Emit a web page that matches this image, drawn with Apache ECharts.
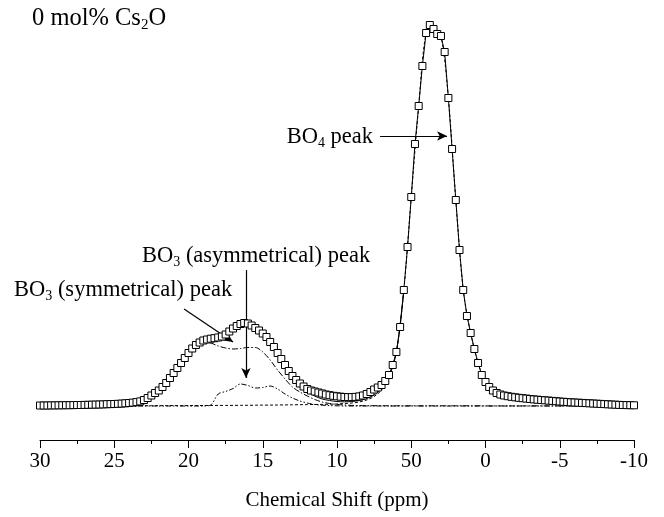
<!DOCTYPE html>
<html>
<head>
<meta charset="utf-8">
<script src="https://cdn.jsdelivr.net/npm/echarts@6/dist/echarts.min.js"></script>
<style>
  html, body { margin: 0; padding: 0; background: #fff; }
  #chart { width: 664px; height: 517px; }
</style>
</head>
<body>
<div id="chart"></div>
<script>
// 11B MAS NMR spectrum of the 0 mol% Cs2O glass with its fitted components.

// x tick labels as printed under the axis (30 ... -10 ppm)
const tickLabels = ['30', '25', '20', '15', '10', '50', '0', '-5', '-10'];

// measured spectrum: first point at 30 ppm, one point every 0.25 ppm
const measuredStart = 30;
const measuredStep = 0.25;
const measured = [
  0.5, 0.5, 0.5, 0.6, 0.6, 0.7, 0.7, 0.8, 0.8, 0.9,
  1.0, 1.0, 1.1, 1.2, 1.3, 1.4, 1.5, 1.6, 1.8, 1.9,
  2.0, 2.2, 2.4, 2.7, 3.0, 3.4, 3.9, 4.6, 6.0, 8.0,
  10.5, 13, 15.5, 19, 23, 28, 33, 38, 43, 48,
  53, 57.5, 61, 63.5, 65.5, 66.5, 67.3, 67.8, 68.5, 69.5,
  71.5, 74.5, 77.5, 80, 82, 83, 82.5, 80.5, 78, 75.5,
  72.5, 69, 64, 59, 53, 47, 41, 35, 30, 26,
  22.5, 19.5, 17, 15.5, 14.5, 13.5, 12.5, 11.5, 10.8, 10.2,
  9.7, 9.3, 9.0, 8.9, 8.9, 9.1, 9.6, 10.5, 12, 14,
  16.5, 18.5, 21, 25, 31, 41, 54, 79, 116, 159,
  209, 262, 300, 340, 373, 381, 377, 372, 370, 354,
  308, 257, 206, 156, 116, 90, 73, 57, 43, 31,
  24, 19, 15.5, 13, 11.5, 10.5, 9.8, 9.2, 8.7, 8.2,
  7.8, 7.4, 7.0, 6.6, 6.3, 6.0, 5.7, 5.4, 5.1, 4.8,
  4.5, 4.2, 4.0, 3.7, 3.5, 3.3, 3.1, 2.9, 2.7, 2.5,
  2.3, 2.1, 1.9, 1.7, 1.5, 1.3, 1.1, 1.0, 0.9, 0.8, 0.7
];

// fitted components: first point at 30 ppm, one point every 0.5 ppm
const compStart = 30;
const compStep = 0.5;
const bo3Symmetric = [
  0.3, 0.3, 0.4, 0.4, 0.5, 0.6, 0.7, 0.9, 1.0, 1.3,
  1.5, 1.9, 2.5, 3.4, 5.4, 10, 15, 22.5, 32.5, 42.5,
  52.5, 60, 64, 63, 60, 58, 57, 57.5, 58.5, 58.5,
  54, 46, 36, 27, 19, 14, 10, 6.5, 4, 2.5,
  1.5, 1, 0.6, 0.4, 0.3, 0.3, 0.3, 0.2, 0.2, 0.2,
  0.2, 0.2, 0.2, 0.2, 0.2, 0.2, 0.2, 0.2, 0.2, 0.2,
  0.1, 0.1, 0.1, 0.1, 0.1, 0.1, 0.1, 0.1, 0.1, 0.1,
  0.1, 0.1, 0.1, 0.1, 0.1, 0.1, 0.1, 0.1, 0.1, 0.1, 0.1
];
const bo3Asymmetric = [
  0, 0, 0, 0, 0, 0, 0, 0, 0, 0,
  0, 0, 0, 0, 0, 0, 0, 0, 0, 0,
  0, 0, 0, 1, 12, 14.5, 17.5, 22, 20.5, 18,
  18.5, 20, 17, 12, 8, 5, 3, 1.5, 0.8, 0.4,
  0.2, 0, 0, 0, 0, 0, 0, 0, 0, 0,
  0, 0, 0, 0, 0, 0, 0, 0, 0, 0,
  0, 0, 0, 0, 0, 0, 0, 0, 0, 0,
  0, 0, 0, 0, 0, 0, 0, 0, 0, 0, 0
];
const bo4Component = [
  0.1, 0.1, 0.1, 0.1, 0.1, 0.2, 0.2, 0.2, 0.2, 0.2,
  0.2, 0.2, 0.3, 0.3, 0.3, 0.3, 0.3, 0.4, 0.4, 0.4,
  0.4, 0.5, 0.5, 0.5, 0.6, 0.6, 0.6, 0.7, 0.7, 0.8,
  0.9, 0.9, 1.0, 1.1, 1.2, 1.3, 1.4, 1.5, 1.6, 1.8,
  2, 2.5, 3, 4, 6, 9.5, 16, 29, 54, 116,
  209, 300, 373, 377, 370, 308, 206, 116, 73, 43,
  24, 15.5, 11.5, 9.8, 8.7, 7.8, 7.0, 6.3, 5.7, 5.1,
  4.5, 4.0, 3.5, 3.1, 2.7, 2.3, 1.9, 1.5, 1.1, 0.9, 0.7
];

// total fit through the trough between the BO3 and BO4 bands
const fitShift = [14, 13.5, 13, 12.5, 12, 11.5, 11, 10.5, 10, 9.5, 9, 8.5, 8, 7.5, 7, 6.5, 6, 5.5];
const fitTotal = [56, 41, 29, 20.5, 14.5, 10, 7, 5.5, 4.5, 4.2, 4.5, 5.5, 7.5, 11, 17.5, 29, 54, 116];

// annotation arrows: [start ppm, start intensity, end ppm, end intensity]
const arrowBO4 = [7.1, 270, 2.59, 270];
const arrowAsym = [16.13, 136, 16.13, 28];
const arrowSym = [20.3, 97, 17.0, 64];

const serif = '"Liberation Serif", "Times New Roman", Times, serif';

function toPairs(values, start, step) {
  return values.map((v, i) => [start - step * i, v]);
}

function arrow(a) {
  return [{ coord: [a[0], a[1]] }, { coord: [a[2], a[3]] }];
}

// rich-text styles with a lowered subscript
function subRich(size, subSize, lineHeight, drop) {
  return {
    a: { fontSize: size, fontFamily: serif, fill: '#000', lineHeight: lineHeight },
    s: { fontSize: subSize, fontFamily: serif, fill: '#000', lineHeight: lineHeight, padding: [drop * 2, 0, 0, 0] }
  };
}

const chart = echarts.init(document.getElementById('chart'), null, { renderer: 'canvas' });

const thin = { color: '#000', width: 1 };

chart.setOption({
  animation: false,
  backgroundColor: '#fff',
  grid: { left: 40, right: 30, top: 20, bottom: 77 },
  xAxis: {
    type: 'value',
    inverse: true,
    min: -10,
    max: 30,
    interval: 5,
    axisLine: { show: true, onZero: false, lineStyle: { color: '#000', width: 1 } },
    axisTick: { show: true, inside: false, length: 8, lineStyle: { color: '#000', width: 1 } },
    minorTick: { show: true, splitNumber: 2, length: 4, lineStyle: { color: '#000', width: 1 } },
    splitLine: { show: false },
    axisLabel: {
      color: '#000',
      fontSize: 21,
      fontFamily: serif,
      margin: 11,
      formatter: v => tickLabels[Math.round((30 - v) / 5)]
    },
    name: 'Chemical Shift (ppm)',
    nameLocation: 'middle',
    nameGap: 50,
    nameTextStyle: { color: '#000', fontSize: 21, fontFamily: serif }
  },
  yAxis: { type: 'value', min: -34, max: 386, show: false },
  series: [
    {
      name: 'BO3 symmetrical',
      type: 'line',
      data: toPairs(bo3Symmetric, compStart, compStep),
      showSymbol: false,
      smooth: 0.3,
      lineStyle: { color: '#000', width: 1, type: [6, 2, 1.5, 2] },
      z: 2
    },
    {
      name: 'BO3 asymmetrical',
      type: 'line',
      data: toPairs(bo3Asymmetric, compStart, compStep),
      showSymbol: false,
      smooth: 0.3,
      lineStyle: { color: '#000', width: 1, type: [5, 2, 1.5, 2, 1.5, 2] },
      z: 2
    },
    {
      name: 'BO4',
      type: 'line',
      data: toPairs(bo4Component, compStart, compStep),
      showSymbol: false,
      smooth: 0.3,
      lineStyle: { color: '#000', width: 1, type: [3, 2] },
      z: 2
    },
    {
      name: 'fit',
      type: 'line',
      data: fitShift.map((s, i) => [s, fitTotal[i]]),
      showSymbol: false,
      smooth: 0.3,
      lineStyle: thin,
      z: 3
    },
    {
      name: 'measured',
      type: 'line',
      data: toPairs(measured, measuredStart, measuredStep),
      symbol: 'rect',
      symbolSize: 7,
      showAllSymbol: true,
      lineStyle: thin,
      itemStyle: { color: '#fff', borderColor: '#000', borderWidth: 1 },
      z: 5,
      markLine: {
        silent: true,
        symbol: ['none', 'arrow'],
        symbolSize: [7, 10],
        label: { show: false },
        lineStyle: { color: '#000', width: 1.2, type: 'solid' },
        data: [arrow(arrowBO4), arrow(arrowAsym), arrow(arrowSym)]
      }
    }
  ],
  graphic: [
    {
      type: 'text', left: 32, top: 4,
      style: { text: '{a|0 mol% Cs}{s|2}{a|O}', fill: '#000', rich: subRich(24.5, 15, 28, 7) }
    },
    {
      type: 'text', right: 664 - 373, top: 124,
      style: { text: '{a|BO}{s|4}{a| peak}', fill: '#000', rich: subRich(22.5, 14, 26, 6) }
    },
    {
      type: 'text', left: 142, top: 243,
      style: { text: '{a|BO}{s|3}{a| (asymmetrical) peak}', fill: '#000', rich: subRich(22.5, 14, 26, 6) }
    },
    {
      type: 'text', left: 14, top: 277,
      style: { text: '{a|BO}{s|3}{a| (symmetrical) peak}', fill: '#000', rich: subRich(22.5, 14, 26, 6) }
    }
  ]
});
</script>
</body>
</html>
